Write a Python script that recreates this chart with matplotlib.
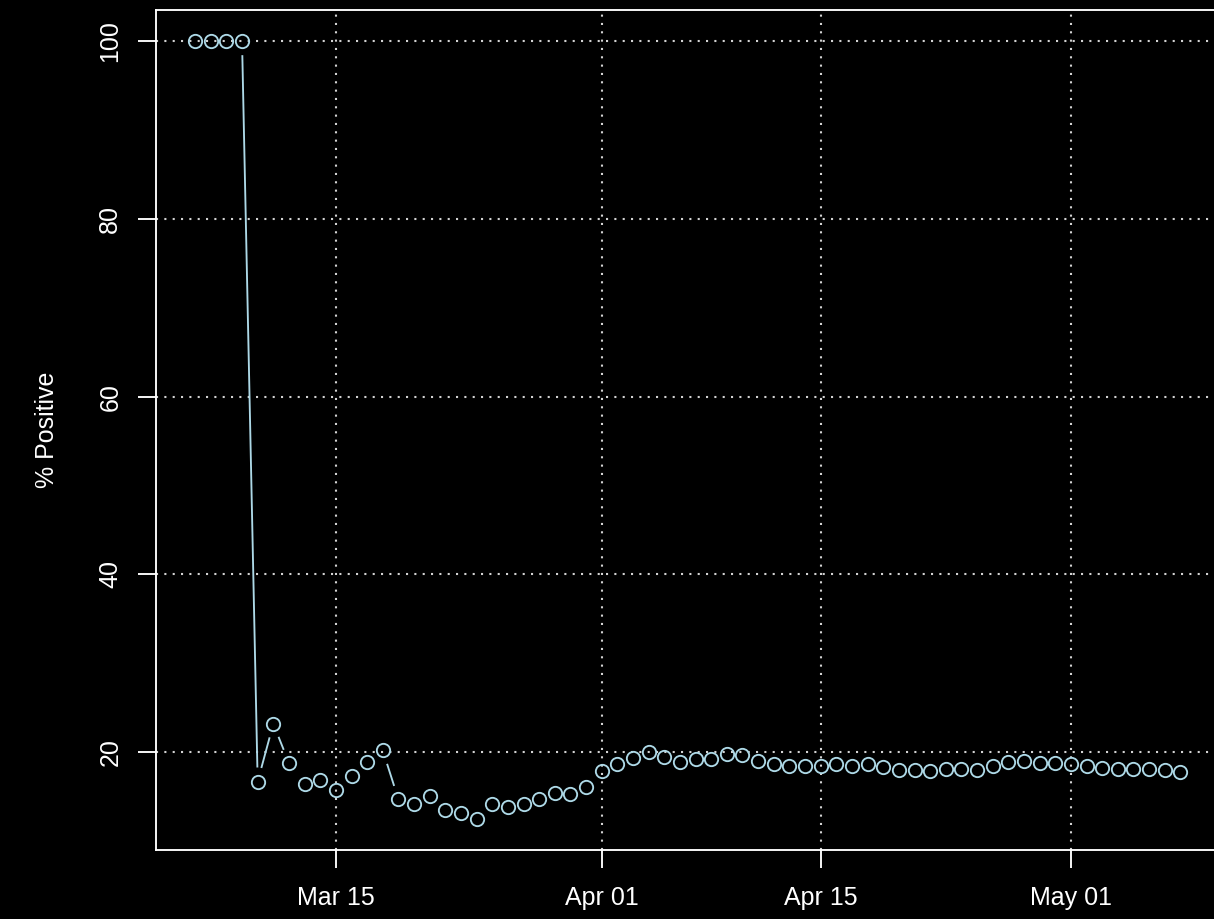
#!/usr/bin/env python3

import numpy as np
import pandas as pd
import matplotlib
matplotlib.use('Agg')
import matplotlib.pyplot as plt
import matplotlib.dates as mdates

# daily share of positive tests (%), 2020-03-06 .. 2020-05-08
dates = pd.date_range('2020-03-06', '2020-05-08', freq='D')
pct_positive = [
	100, 100, 100, 100, 16.7, 23.2, 18.8, 16.4, 16.85, 15.7,
	17.3, 18.9, 20.2, 14.7, 14.2, 15.1, 13.5, 13.2, 12.5, 14.2,
	13.85, 14.15, 14.7, 15.4, 15.3, 16.1,
	17.9, 18.7, 19.3, 20.0, 19.5, 18.9, 19.2, 19.25, 19.8, 19.7,
	19.0, 18.65, 18.4, 18.5, 18.5, 18.65, 18.5, 18.7, 18.3, 18.05,
	18.0, 17.9, 18.1, 18.1, 18.05, 18.4, 18.9, 19.0, 18.8, 18.8,
	18.7, 18.5, 18.2, 18.1, 18.15, 18.1, 18.0, 17.75,
]
x_ticks = ['2020-03-15', '2020-04-01', '2020-04-15', '2020-05-01']
y_ticks = [20, 40, 60, 80, 100]

col = '#ADD8E6'
dpi = 150
plt.rcParams['font.family'] = ['Liberation Sans', 'DejaVu Sans']
plt.rcParams['font.size'] = 12

fig = plt.figure(figsize=(1214 / dpi, 919 / dpi), dpi=dpi, facecolor='black')
ax = fig.add_axes([155.7 / 1214, 69 / 919, 1064.1 / 1214, 840 / 919])
ax.set_facecolor('black')

xn = mdates.date2num(dates)
yv = np.array(pct_positive, dtype=float)
# R-style axis extension of 4%
xr = xn.max() - xn.min()
yr = yv.max() - yv.min()
ax.set_xlim(xn.min() - 0.04 * xr, xn.max() + 0.04 * xr)
ax.set_ylim(yv.min() - 0.04 * yr, yv.max() + 0.04 * yr)

tick_num = mdates.date2num(pd.to_datetime(x_ticks))
ax.set_xticks(tick_num)
ax.set_xticklabels([pd.Timestamp(t).strftime('%b %d') for t in x_ticks])
ax.set_yticks(y_ticks)
ax.set_yticklabels([str(v) for v in y_ticks], rotation=90, va='center')

for v in tick_num:
	ax.axvline(v, color='#D3D3D3', lw=1.0, ls=(0, (1, 3)), zorder=1)
for v in y_ticks:
	ax.axhline(v, color='#D3D3D3', lw=1.0, ls=(0, (1, 3)), zorder=1)

# type = "b": segments with gaps around points
gap = 15.0
pts = ax.transData.transform(np.column_stack([xn, yv]))
inv = ax.transData.inverted()
for i in range(len(pts) - 1):
	p0, p1 = pts[i], pts[i + 1]
	d = np.hypot(*(p1 - p0))
	if d <= 2 * gap:
		continue
	u = (p1 - p0) / d
	a = inv.transform(p0 + u * gap)
	b = inv.transform(p1 - u * gap)
	ax.plot([a[0], b[0]], [a[1], b[1]], color=col, lw=0.9, zorder=2)

ax.plot(xn, yv, ls='none', marker='o', ms=6.4, mfc='none', mec=col, mew=0.9, zorder=3)

for s in ax.spines.values():
	s.set_color('white')
	s.set_linewidth(0.9)
ax.tick_params(axis='both', colors='white', length=8.5, width=0.9, labelsize=12)
ax.tick_params(axis='x', pad=9)
ax.tick_params(axis='y', pad=7.5)

fig.text(47 / 1214, 1 - 430 / 919, '% Positive', color='white', fontsize=12,
	rotation=90, ha='center', va='center')

fig.savefig('out.png', dpi=dpi, facecolor='black')
